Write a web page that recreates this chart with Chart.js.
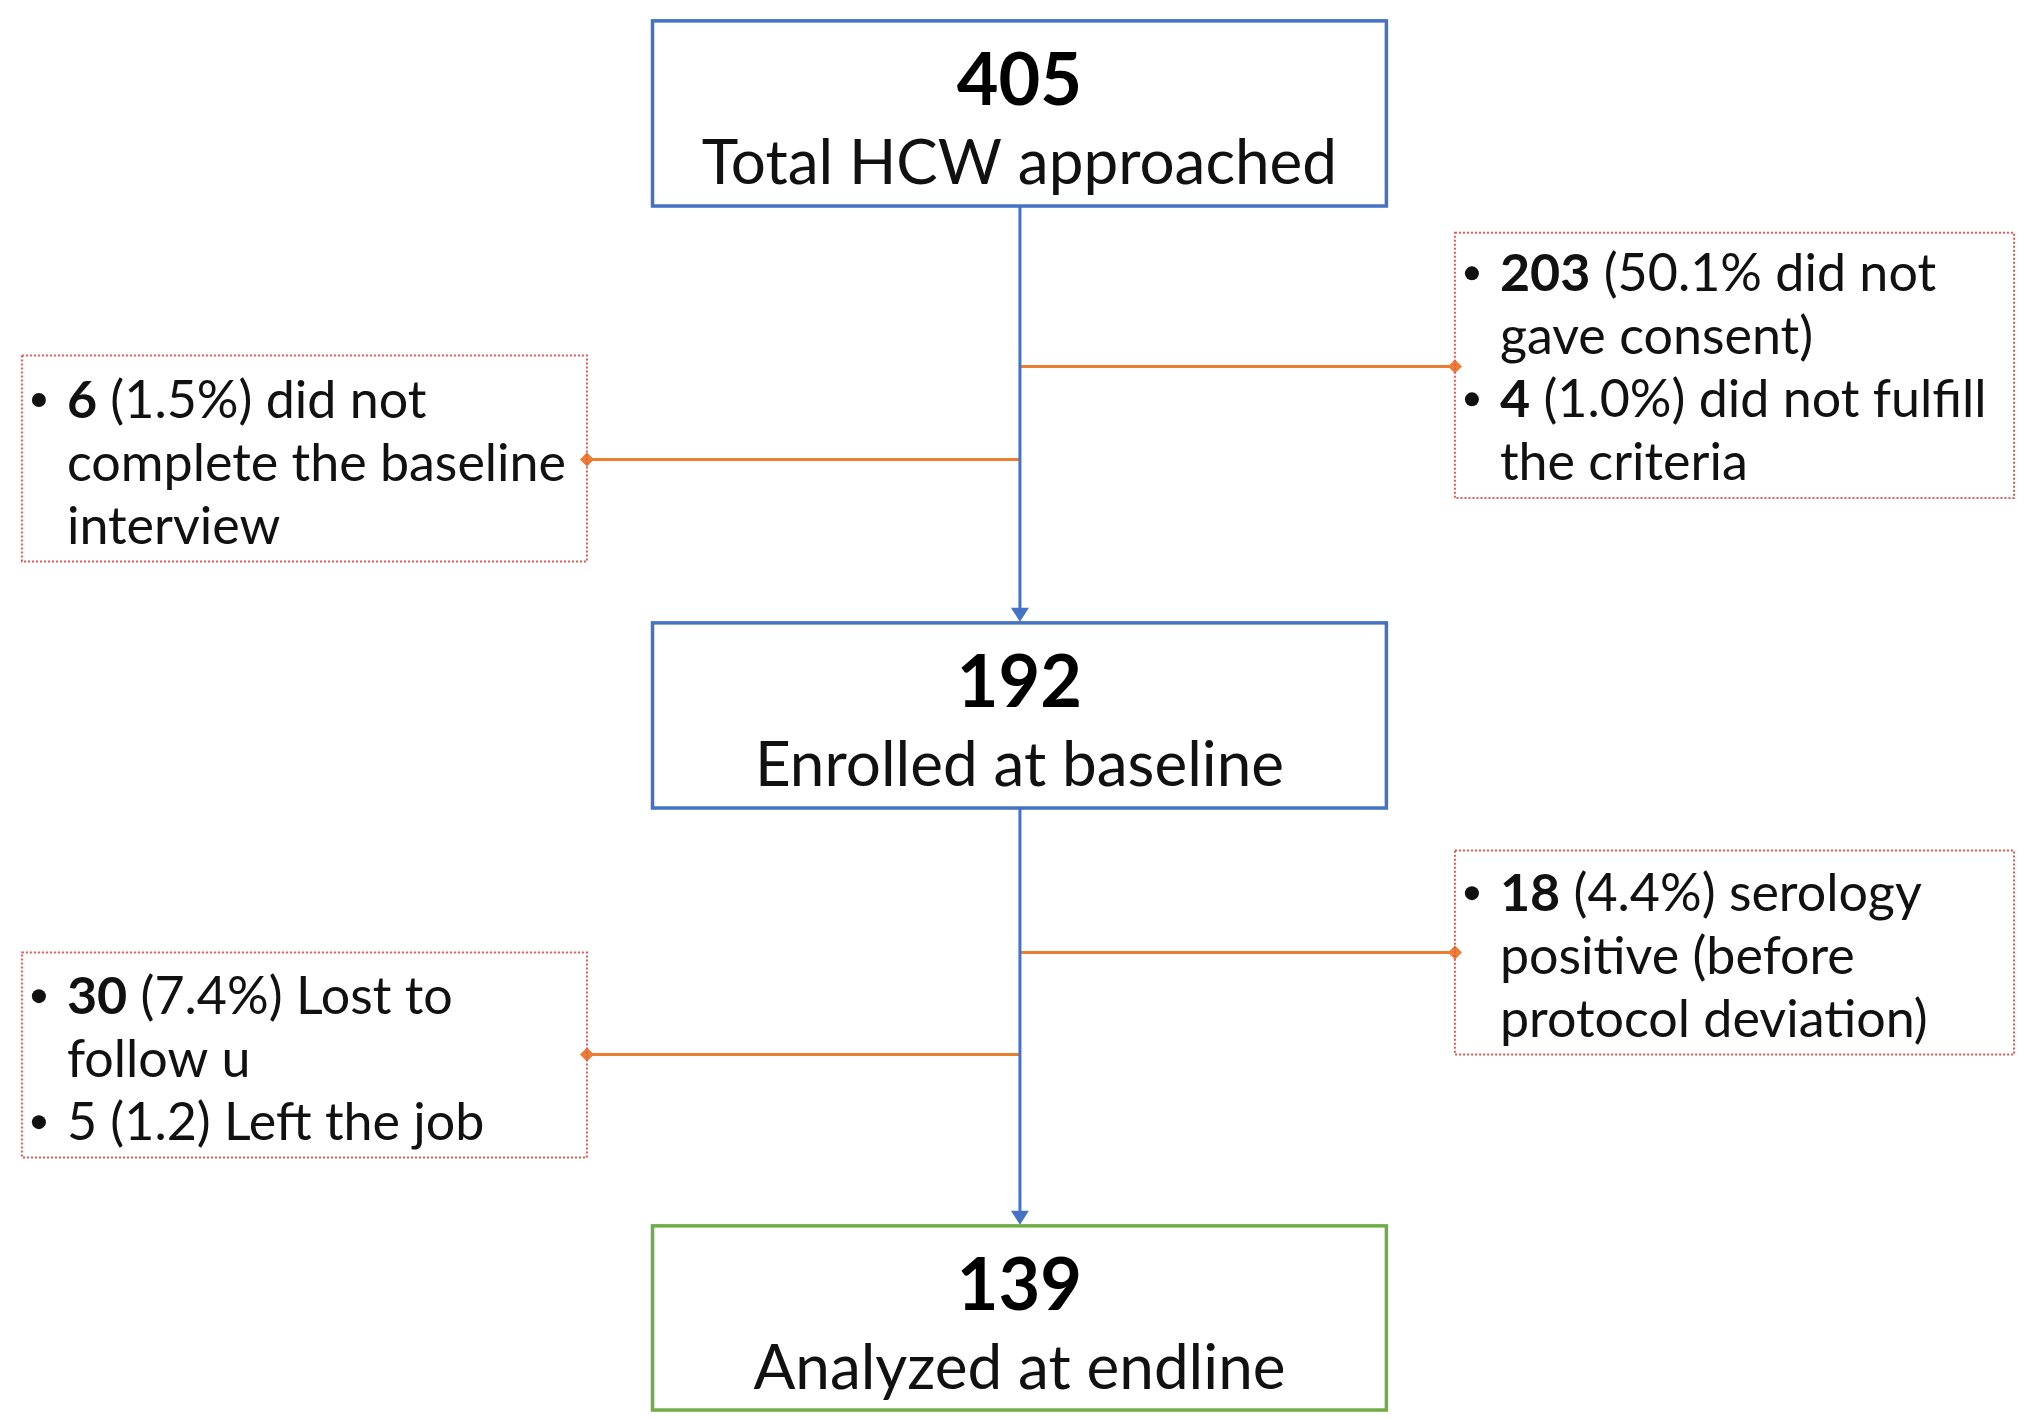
<!DOCTYPE html>
<html>
<head>
<meta charset="utf-8">
<script src="https://cdn.jsdelivr.net/npm/chart.js@4.4.1/dist/chart.umd.min.js"></script>
<style>
html,body{margin:0;padding:0;background:#fff;}
#wrap{width:2024px;height:1419px;}
</style>
</head>
<body>
<div id="wrap"><canvas id="c" width="2024" height="1419"></canvas></div>
<script>
// ---------- DATA ----------
const stageCounts = [405, 192, 139];
const stageLabels = ['Total HCW approached', 'Enrolled at baseline', 'Analyzed at endline'];

// exclusion boxes: each line = [bullet?, bold part, normal part]
const exclAfterApproachRight = [
  [true, '203', ' (50.1% did not'],
  [false, '', 'gave consent)'],
  [true, '4', ' (1.0%) did not fulfill'],
  [false, '', 'the criteria']
];
const exclAfterApproachLeft = [
  [true, '6', ' (1.5%) did not'],
  [false, '', 'complete the baseline'],
  [false, '', 'interview']
];
const exclAfterEnrolRight = [
  [true, '18', ' (4.4%) serology'],
  [false, '', 'positive (before'],
  [false, '', 'protocol deviation)']
];
const exclAfterEnrolLeft = [
  [true, '30', ' (7.4%) Lost to'],
  [false, '', 'follow u'],
  [true, '', '5 (1.2) Left the job']
];

// ---------- LAYOUT (coordinate space of the hidden scales) ----------
const W = 2024, H = 1419;
const spineX = 1020;
const stageBoxes = [
  {x0: 650, x1: 1389, y0: 14,   y1: 201,  color: '#4472C4'},
  {x0: 650, x1: 1389, y0: 622,  y1: 809,  color: '#4472C4'},
  {x0: 650, x1: 1389, y0: 1231, y1: 1417, color: '#70AD47'}
];
const exclBoxes = [
  {lines: exclAfterApproachRight, x0: 1458, x1: 2021, y0: 228, y1: 496, firstY: 270, side: 'right', joinY: 363},
  {lines: exclAfterApproachLeft,  x0: 15,   x1: 584,  y0: 352, y1: 560, firstY: 398, side: 'left',  joinY: 457},
  {lines: exclAfterEnrolRight,    x0: 1458, x1: 2021, y0: 852, y1: 1058, firstY: 896, side: 'right', joinY: 955},
  {lines: exclAfterEnrolLeft,     x0: 15,   x1: 584,  y0: 955, y1: 1162, firstY: 1000, side: 'left', joinY: 1058}
];

const FONT = 'Lato, "Open Sans", sans-serif';
const ORANGE = '#ED7D31';
const BLUE = '#4472C4';

// datasets built from layout: spine segments and orange branches
const datasets = [];
for (let i = 0; i < stageBoxes.length - 1; i++) {
  datasets.push({
    data: [{x: spineX, y: stageBoxes[i].y1}, {x: spineX, y: stageBoxes[i + 1].y0 - 12}],
    borderColor: BLUE, borderWidth: 3, pointRadius: 0, showLine: true
  });
}
exclBoxes.forEach(b => {
  const edge = b.side === 'right' ? b.x0 : b.x1;
  datasets.push({
    data: [{x: spineX, y: b.joinY}, {x: edge, y: b.joinY}],
    borderColor: ORANGE, borderWidth: 3, showLine: true,
    pointStyle: 'rectRot', pointRadius: [0, 7], pointBackgroundColor: ORANGE, pointBorderColor: ORANGE, pointBorderWidth: 0
  });
});

const flowPlugin = {
  id: 'flow',
  beforeDatasetsDraw(chart) {
    const ctx = chart.ctx, xs = chart.scales.x, ys = chart.scales.y;
    for (let i = 1; i < stageBoxes.length; i++) {
      const tx = xs.getPixelForValue(spineX), ty = ys.getPixelForValue(stageBoxes[i].y0);
      ctx.save();
      ctx.fillStyle = BLUE;
      ctx.beginPath();
      ctx.moveTo(tx, ty - 1);
      ctx.lineTo(tx - 9, ty - 15);
      ctx.lineTo(tx + 9, ty - 15);
      ctx.closePath();
      ctx.fill();
      ctx.restore();
    }
  },
  afterDatasetsDraw(chart) {
    const ctx = chart.ctx, xs = chart.scales.x, ys = chart.scales.y;
    const px = v => xs.getPixelForValue(v), py = v => ys.getPixelForValue(v);
    stageBoxes.forEach((b, i) => {
      const x0 = px(b.x0), x1 = px(b.x1), y0 = py(b.y0), y1 = py(b.y1);
      ctx.save();
      ctx.fillStyle = '#fff';
      ctx.fillRect(x0, y0, x1 - x0, y1 - y0);
      ctx.strokeStyle = b.color;
      ctx.lineWidth = 3.5;
      ctx.strokeRect(x0, y0, x1 - x0, y1 - y0);
      ctx.fillStyle = '#000';
      ctx.textAlign = 'center';
      ctx.textBaseline = 'middle';
      const cx = (x0 + x1) / 2;
      ctx.font = 'bold 72px ' + FONT;
      ctx.fillText(String(stageCounts[i]), cx, y0 + 61);
      ctx.font = '62px ' + FONT;
      ctx.fillStyle = '#111';
      ctx.fillText(stageLabels[i], cx, y0 + 143);
      ctx.restore();
    });
    exclBoxes.forEach(b => {
      const x0 = px(b.x0), x1 = px(b.x1), y0 = py(b.y0), y1 = py(b.y1);
      ctx.save();
      ctx.strokeStyle = '#E35A52';
      ctx.lineWidth = 2;
      ctx.setLineDash([2, 2]);
      ctx.strokeRect(x0, y0, x1 - x0, y1 - y0);
      ctx.setLineDash([]);
      ctx.fillStyle = '#111';
      ctx.textBaseline = 'middle';
      ctx.textAlign = 'left';
      const bulletX = x0 + 17, textX = x0 + 45, lh = 63;
      b.lines.forEach((ln, k) => {
        const y = py(b.firstY) + k * lh;
        let x = textX;
        if (ln[0]) {
          ctx.beginPath();
          ctx.arc(bulletX, y - 1, 7, 0, Math.PI * 2);
          ctx.fill();
        }
        if (ln[1]) {
          ctx.font = 'bold 52px ' + FONT;
          ctx.fillText(ln[1], x, y);
          x += ctx.measureText(ln[1]).width;
        }
        ctx.font = '52px ' + FONT;
        ctx.fillText(ln[2], x, y);
      });
      ctx.restore();
    });
  }
};

new Chart(document.getElementById('c'), {
  type: 'scatter',
  data: {datasets},
  options: {
    responsive: false,
    animation: false,
    devicePixelRatio: 1,
    layout: {padding: 0},
    plugins: {legend: {display: false}, tooltip: {enabled: false}, title: {display: false}},
    scales: {
      x: {type: 'linear', min: 0, max: W, display: false},
      y: {type: 'linear', min: 0, max: H, reverse: true, display: false}
    }
  },
  plugins: [flowPlugin]
});
</script>
</body>
</html>
